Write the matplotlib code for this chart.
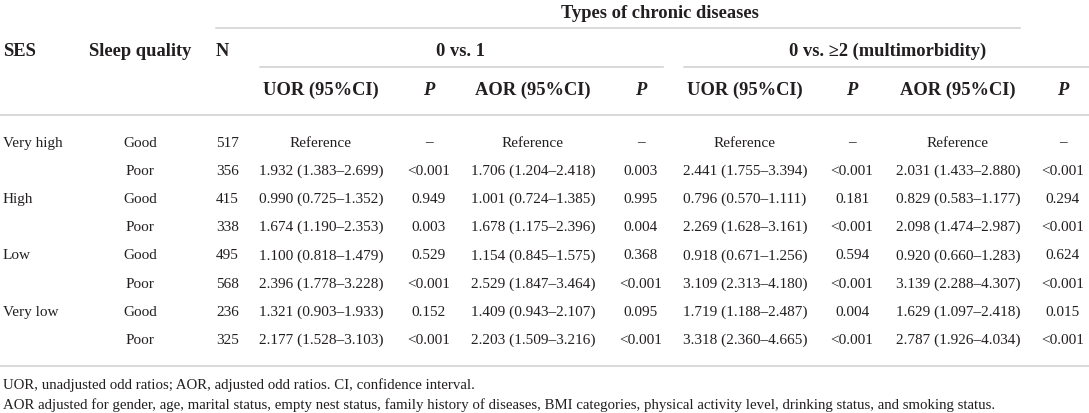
import matplotlib.pyplot as plt

plt.rcParams['font.family'] = ['Liberation Serif', 'DejaVu Serif']

# table content
ses = ["Very high", "", "High", "", "Low", "", "Very low", ""]
sleep = ["Good", "Poor"] * 4
n = [517, 356, 415, 338, 495, 568, 236, 325]
uor1 = ["Reference", "1.932 (1.383–2.699)", "0.990 (0.725–1.352)", "1.674 (1.190–2.353)",
        "1.100 (0.818–1.479)", "2.396 (1.778–3.228)", "1.321 (0.903–1.933)", "2.177 (1.528–3.103)"]
p1 = ["–", "<0.001", "0.949", "0.003", "0.529", "<0.001", "0.152", "<0.001"]
aor1 = ["Reference", "1.706 (1.204–2.418)", "1.001 (0.724–1.385)", "1.678 (1.175–2.396)",
        "1.154 (0.845–1.575)", "2.529 (1.847–3.464)", "1.409 (0.943–2.107)", "2.203 (1.509–3.216)"]
p2 = ["–", "0.003", "0.995", "0.004", "0.368", "<0.001", "0.095", "<0.001"]
uor2 = ["Reference", "2.441 (1.755–3.394)", "0.796 (0.570–1.111)", "2.269 (1.628–3.161)",
        "0.918 (0.671–1.256)", "3.109 (2.313–4.180)", "1.719 (1.188–2.487)", "3.318 (2.360–4.665)"]
p3 = ["–", "<0.001", "0.181", "<0.001", "0.594", "<0.001", "0.004", "<0.001"]
aor2 = ["Reference", "2.031 (1.433–2.880)", "0.829 (0.583–1.177)", "2.098 (1.474–2.987)",
        "0.920 (0.660–1.283)", "3.139 (2.288–4.307)", "1.629 (1.097–2.418)", "2.787 (1.926–4.034)"]
p4 = ["–", "<0.001", "0.294", "<0.001", "0.624", "<0.001", "0.015", "<0.001"]

col_headers = ["UOR (95%CI)", "P", "AOR (95%CI)", "P", "UOR (95%CI)", "P", "AOR (95%CI)", "P"]
group_headers = ["0 vs. 1", "0 vs. ≥2 (multimorbidity)"]
footnotes = ["UOR, unadjusted odd ratios; AOR, adjusted odd ratios. CI, confidence interval.",
             "AOR adjusted for gender, age, marital status, empty nest status, family history of diseases, "
             "BMI categories, physical activity level, drinking status, and smoking status."]

# layout (pixels)
W, H = 1089, 414
col_x = [321, 429, 533, 641, 745, 852, 958, 1063]
row_y = [141.5 + 28.2 * i for i in range(8)]
txt = '#231f20'
rule = '#cfcfcf'

fig = plt.figure(figsize=(W / 100, H / 100), dpi=100)
ax = fig.add_axes([0, 0, 1, 1])
ax.set_xlim(0, W)
ax.set_ylim(H, 0)
ax.axis('off')

hs = 13.3
ds = 11
hb = 6.2   # header baseline offset from row centre
db = 5.1   # body baseline offset


def head(x, y, s, ha='center', style='normal'):
    ax.text(x, y + hb, s, ha=ha, va='baseline', fontsize=hs, fontweight='bold',
            fontstyle=style, color=txt)


def cell(x, y, s, ha='center'):
    ax.text(x, y + db, s, ha=ha, va='baseline', fontsize=ds, color=txt)


# header
head(660, 12, "Types of chronic diseases")
head(3, 50, "SES", ha='left')
head(140, 50, "Sleep quality")
head(216, 50, "N", ha='left')
head(460, 50, group_headers[0])
head(888, 50, group_headers[1])
for x, h in zip(col_x, col_headers):
    head(x, 89, h, style='italic' if h == "P" else 'normal')

# rules
ax.plot([216, 1020], [29, 29], color=rule, lw=1.1)
ax.plot([260, 663], [68, 68], color=rule, lw=1.1)
ax.plot([684, W], [68, 68], color=rule, lw=1.1)
ax.plot([0, W], [116, 116], color=rule, lw=1.1)
ax.plot([0, W], [367, 367], color=rule, lw=1.1)

# body
cols = [uor1, p1, aor1, p2, uor2, p3, aor2, p4]
for i, y in enumerate(row_y):
    cell(3, y, ses[i], ha='left')
    cell(140, y, sleep[i])
    cell(216, y, str(n[i]), ha='left')
    for x, c in zip(col_x, cols):
        cell(x, y, c[i])

ax.text(3, 389.5, footnotes[0], ha='left', va='baseline', fontsize=10.7, color=txt)
ax.text(3, 409, footnotes[1], ha='left', va='baseline', fontsize=10.7, color=txt)

fig.savefig('out.png', dpi=100)
